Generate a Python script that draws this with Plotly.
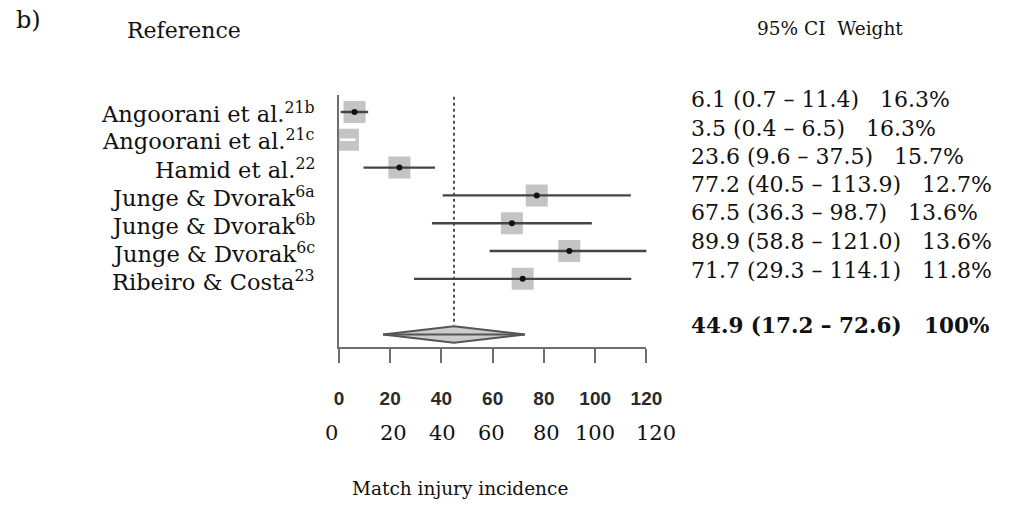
import plotly.graph_objects as go

# ---------------- data ----------------
studies = ["Angoorani et al.<sup>21b</sup>", "Angoorani et al.<sup>21c</sup>", "Hamid et al.<sup>22</sup>",
           "Junge & Dvorak<sup>6a</sup>", "Junge & Dvorak<sup>6b</sup>", "Junge & Dvorak<sup>6c</sup>",
           "Ribeiro & Costa<sup>23</sup>"]
estimate = [6.1, 3.5, 23.6, 77.2, 67.5, 89.9, 71.7]
ci_low = [0.7, 0.4, 9.6, 40.5, 36.3, 58.8, 29.3]
ci_high = [11.4, 6.5, 37.5, 113.9, 98.7, 121.0, 114.1]
weight = [16.3, 16.3, 15.7, 12.7, 13.6, 13.6, 11.8]
pooled = 44.9
pooled_low = 17.2
pooled_high = 72.6
pooled_weight = "100%"
tick_vals = [0, 20, 40, 60, 80, 100, 120]
tick_labels = ["0", "20", "40", "60", "80", "100", "120"]
second_row_labels = ["0", "20", "40", "60", "80", "100", "120"]

W, H = 1013, 508
def px(x):
    return x / W
def py(y):
    return 1 - y / H

SERIF = "DejaVu Serif"
rows = list(range(1, len(studies) + 1))
pooled_row = len(studies) + 2

fig = go.Figure()

# dotted line at pooled estimate
fig.add_trace(go.Scatter(x=[pooled, pooled], y=[0.45, 8.66], mode="lines",
                         line=dict(color="#555555", width=2, dash="dot"),
                         hoverinfo="skip", showlegend=False))

# boxes
fig.add_trace(go.Scatter(x=estimate, y=rows, mode="markers",
                         marker=dict(symbol="square", size=22, color="#c4c4c4"),
                         hoverinfo="skip", showlegend=False))

# whiskers
for i, (lo, hi) in enumerate(zip(ci_low, ci_high)):
    col = "#ffffff" if i == 1 else "#444444"
    fig.add_trace(go.Scatter(x=[lo, hi], y=[rows[i], rows[i]], mode="lines",
                             line=dict(color=col, width=2.4),
                             hoverinfo="skip", showlegend=False))

# centre marks
cx = [e for i, e in enumerate(estimate) if i != 1]
cy = [r for i, r in enumerate(rows) if i != 1]
fig.add_trace(go.Scatter(x=cx, y=cy, mode="markers",
                         marker=dict(symbol="circle", size=6, color="#111111"),
                         hoverinfo="skip", showlegend=False))

# pooled diamond
h = 0.3
fig.add_trace(go.Scatter(x=[pooled_low, pooled, pooled_high, pooled, pooled_low],
                         y=[pooled_row, pooled_row - h, pooled_row, pooled_row + h, pooled_row],
                         mode="lines", fill="toself", fillcolor="#cccccc",
                         line=dict(color="#555555", width=2),
                         hoverinfo="skip", showlegend=False))
fig.add_trace(go.Scatter(x=[pooled_low, pooled_high], y=[pooled_row, pooled_row], mode="lines",
                         line=dict(color="#555555", width=2),
                         hoverinfo="skip", showlegend=False))

fig.update_layout(
    width=W, height=H, margin=dict(l=0, r=0, t=0, b=0),
    paper_bgcolor="white", plot_bgcolor="white",
    xaxis=dict(domain=[px(341), px(655)], range=[0, 120], showgrid=False, zeroline=False,
               showline=True, linecolor="#6e6e6e", linewidth=2,
               ticks="outside", ticklen=14, tickwidth=2, tickcolor="#6e6e6e",
               tickvals=tick_vals, ticktext=tick_labels, ticklabelstandoff=19,
               tickfont=dict(family="Liberation Sans", size=19, color="#2a2a2a", weight="bold"),
               anchor="y"),
    yaxis=dict(domain=[py(347), py(95)], range=[9.45, 0.39], showgrid=False, zeroline=False,
               showline=True, linecolor="#6e6e6e", linewidth=2, showticklabels=False, ticks="",
               anchor="x"),
)

ann = []
# study labels
for i, s in enumerate(studies):
    ypix = 112 + i * 28
    ann.append(dict(text=s, x=px(319), y=py(ypix), xref="paper", yref="paper",
                    xanchor="right", yanchor="middle", showarrow=False,
                    font=dict(family=SERIF, size=22.5, color="#111111")))

# right-hand texts
nb = "\u00a0"
right_y = [99, 128, 156, 184, 213, 241, 270]
for i in range(len(studies)):
    t = f"{estimate[i]:.1f} ({ci_low[i]:.1f} – {ci_high[i]:.1f}){nb*3}{weight[i]:.1f}%"
    ann.append(dict(text=t, x=px(698), y=py(right_y[i]), xref="paper", yref="paper",
                    xanchor="left", yanchor="middle", showarrow=False,
                    font=dict(family=SERIF, size=22, color="#111111")))
ann.append(dict(text=f"<b>{pooled:.1f} ({pooled_low:.1f} – {pooled_high:.1f}){nb*3}{pooled_weight}</b>",
                x=px(698), y=py(325), xref="paper", yref="paper",
                xanchor="left", yanchor="middle", showarrow=False,
                font=dict(family=SERIF, size=21.5, color="#111111")))

# second row of tick labels
second_x = [333, 397, 447, 497, 553, 603, 665]
for lab, xx in zip(second_row_labels, second_x):
    ann.append(dict(text=lab, x=px(xx), y=py(433), xref="paper", yref="paper",
                    xanchor="center", yanchor="middle", showarrow=False,
                    font=dict(family=SERIF, size=21, color="#111111")))

# headers & titles
ann.append(dict(text="b)", x=px(9), y=py(20), xref="paper", yref="paper", xanchor="left",
                yanchor="middle", showarrow=False, font=dict(family=SERIF, size=24, color="#111111")))
ann.append(dict(text="Reference", x=px(183), y=py(30), xref="paper", yref="paper", xanchor="center",
                yanchor="middle", showarrow=False, font=dict(family=SERIF, size=22, color="#111111")))
ann.append(dict(text=f"95% CI{nb}{nb}Weight", x=px(842), y=py(28), xref="paper", yref="paper",
                xanchor="center", yanchor="middle", showarrow=False,
                font=dict(family=SERIF, size=18.5, color="#111111")))
ann.append(dict(text="Match injury incidence", x=px(465), y=py(488), xref="paper", yref="paper",
                xanchor="center", yanchor="middle", showarrow=False,
                font=dict(family=SERIF, size=18.5, color="#111111")))

fig.update_layout(annotations=ann)
fig.write_html("out.html")
